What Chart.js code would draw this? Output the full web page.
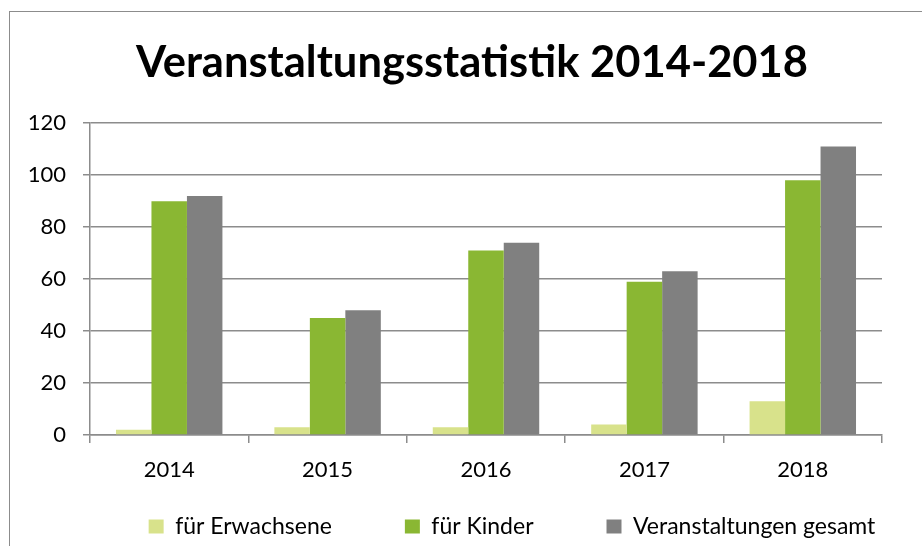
<!DOCTYPE html>
<html>
<head>
<meta charset="utf-8">
<script src="https://cdn.jsdelivr.net/npm/chart.js@4"></script>
<style>
  body { margin: 0; background: #fff; }
  #wrap { position: relative; width: 922px; height: 546px; overflow: hidden; }
  #rahmen { position: absolute; left: 9px; top: 11px; width: 960px; height: 600px;
            border-top: 1.5px solid #8c8c8c; border-left: 1.5px solid #8c8c8c; }
  #grafik { position: absolute; left: 0; top: 0; }
</style>
</head>
<body>
<div id="wrap">
  <div id="rahmen"></div>
  <canvas id="grafik" width="922" height="546"></canvas>
</div>
<script>
const jahre = ['2014', '2015', '2016', '2017', '2018'];
const erwachsene = [2, 3, 3, 4, 13];
const kinder = [90, 45, 71, 59, 98];
const gesamt = [92, 48, 74, 63, 111];
const yTicks = [0, 20, 40, 60, 80, 100, 120];

const schrift = 'Lato, "Open Sans", sans-serif';
const gitter = '#8c8c8c';

// Titel und Legende wie im Original platzieren
const platzieren = {
  id: 'platzieren',
  afterLayout(chart) {
    const t = chart.titleBlock;
    t.left += 31;
    t.right += 31;
    const lg = chart.legend;
    const h = lg.bottom - lg.top;
    lg.left += 71;
    lg.right += 71;
    lg.top = 442;
    lg.bottom = 442 + h;
  }
};

const ctx = document.getElementById('grafik').getContext('2d');
new Chart(ctx, {
  type: 'bar',
  data: {
    labels: jahre,
    datasets: [
      { label: 'für Erwachsene', data: erwachsene, backgroundColor: '#d8e28b' },
      { label: 'für Kinder', data: kinder, backgroundColor: '#8ab733' },
      { label: 'Veranstaltungen gesamt', data: gesamt, backgroundColor: '#808080' }
    ]
  },
  options: {
    responsive: false,
    animation: false,
    layout: { padding: { left: 0, right: 40, top: 0, bottom: -50 } },
    datasets: { bar: { categoryPercentage: 0.672, barPercentage: 1 } },
    plugins: {
      title: {
        display: true,
        text: 'Veranstaltungsstatistik 2014-2018',
        color: '#000',
        font: { family: schrift, size: 43.5, weight: 'bold', lineHeight: 1.2 },
        padding: { top: 37, bottom: 34 }
      },
      legend: {
        position: 'bottom',
        labels: {
          color: '#000',
          font: { family: schrift, size: 23 },
          boxWidth: 15,
          boxHeight: 14,
          padding: 73
        }
      },
      tooltip: { enabled: false }
    },
    scales: {
      x: {
        afterFit(scale) { scale.height = 55; },
        grid: { offset: true, drawOnChartArea: false, color: gitter, lineWidth: 1.5, tickLength: 8 },
        border: { color: gitter, width: 1.5 },
        ticks: { color: '#000', font: { family: schrift, size: 22 }, padding: 14 }
      },
      y: {
        min: 0,
        max: 120,
        afterFit(scale) { scale.width = 90; },
        afterBuildTicks(scale) { scale.ticks = yTicks.map(v => ({ value: v })); },
        grid: { color: gitter, lineWidth: 1.5, tickLength: 7 },
        border: { color: gitter, width: 1.5 },
        ticks: { color: '#000', font: { family: schrift, size: 22 }, padding: 17 }
      }
    }
  },
  plugins: [platzieren]
});
</script>
</body>
</html>
